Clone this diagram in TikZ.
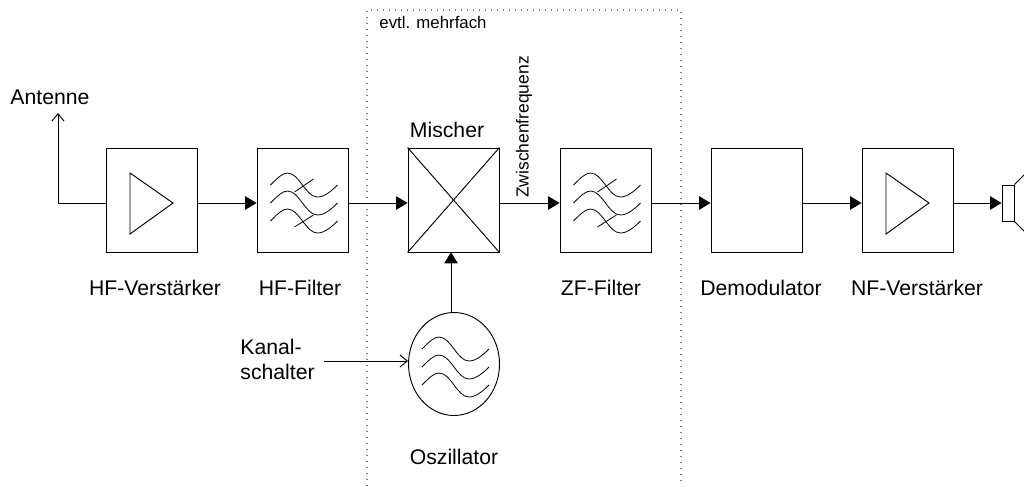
\documentclass[tikz,border=0pt]{standalone}
\usepackage{fontspec}
\setmainfont{Liberation Sans}
\usetikzlibrary{arrows.meta}
\usetikzlibrary{shapes.geometric}
\usetikzlibrary{calc}

\tikzset{
  blockbox/.style={draw=black, rectangle, minimum width=68.25pt, minimum height=78pt, inner sep=0pt},
  labeltext/.style={font=\fontsize{15.9}{18}\selectfont, inner sep=0pt, anchor=center},
  smalltext/.style={font=\fontsize{12.6}{15}\selectfont, inner sep=0pt},
  wire/.style={black, line width=0.7pt, -{Triangle[length=8.5pt,width=10pt]}},
  openwire/.style={black, line width=0.7pt, -{Straight Barb[length=5.5pt,width=9pt]}},
  wave/.pic={
    \draw [black, line width=0.6pt] (-32,-15) .. controls (-25,-22) and (-20,-27) .. (-15,-27)
      .. controls (-3,-27) and (3,-3) .. (15,-3) .. controls (22,-3) and (29,-9) .. (35,-15);
  },
  wavetrio/.pic={
    \pic at (0,0) {wave};
    \pic at (0,18) {wave};
    \pic at (0,36) {wave};
  },
  filtersign/.pic={
    \pic at (0,0) {wavetrio};
    \draw [black, line width=0.6pt] (-8,-8) to (11,-21);
    \draw [black, line width=0.6pt] (-8,27) to (11,15);
  }
}

\begin{document}
\begin{tikzpicture}[x=0.75pt, y=-0.75pt, line width=0.7pt]
  \useasboundingbox (0,0) rectangle (1024,486);
  \clip (0,0) rectangle (1024,486);

  % dotted frame, open at the bottom
  \draw [gray, line width=0.8pt, dash pattern=on 0.8pt off 3.7pt] (367,486) -- (367,10) -- (681,10) -- (681,486);
  \node [smalltext, anchor=west] (mehrfach) at (379,22) {evtl. mehrfach};

  \coordinate (bus) at (0,203);

  % blocks
  \node [blockbox] (hfamp) at (151.5,200) {};
  \node [blockbox] (hffilter) at (302.5,200) {};
  \node [blockbox] (mixer) at (453.5,200) {};
  \node [blockbox] (zffilter) at (605.5,200) {};
  \node [blockbox] (demod) at (756.5,200) {};
  \node [blockbox] (nfamp) at (907.5,200) {};
  \node [draw=black, rectangle, minimum width=9pt, minimum height=27pt, inner sep=0pt] (speaker) at (1008,203) {};
  \node [draw=black, ellipse, minimum width=68.25pt, minimum height=77.25pt, inner sep=0pt] (osc) at (454,364) {};

  % symbols in the blocks
  \draw [black] (130,173) -- (173,203) -- (130,234) -- cycle;
  \draw [black] (886,173) -- (929,203) -- (886,234) -- cycle;
  \pic at (hffilter.center) {filtersign};
  \pic at (zffilter.center) {filtersign};
  \pic at (osc.center) {wavetrio};
  \draw [black] (mixer.north west) -- (mixer.south east);
  \draw [black] (mixer.north east) -- (mixer.south west);
  \draw [black] (speaker.north east) -- ++(12,-12);
  \draw [black] (speaker.south east) -- ++(12,12);

  % labels
  \node [labeltext, anchor=west] (antenne) at (10,97) {Antenne};
  \node [labeltext] (hfamplabel) at (155,288) {HF-Verstärker};
  \node [labeltext] (hffilterlabel) at (300,288) {HF-Filter};
  \node [labeltext] (mixerlabel) at (447,130) {Mischer};
  \node [labeltext] (zffilterlabel) at (601,288) {ZF-Filter};
  \node [labeltext] (demodlabel) at (761,288) {Demodulator};
  \node [labeltext] (nfamplabel) at (917,288) {NF-Verstärker};
  \node [labeltext] (osclabel) at (454,457) {Oszillator};
  \node [labeltext, anchor=west] (kanal) at (240,347) {Kanal-};
  \node [labeltext, anchor=west] (schalter) at (240,372) {schalter};
  \node [smalltext, font=\fontsize{13.1}{15}\selectfont, rotate=90] (zwischen) at (524,127) {Zwischenfrequenz};

  % connections
  \coordinate (antennetip) at (58,113);
  \coordinate (kanalstart) at (324,361);
  \coordinate (mixerin) at (451,252);
  \draw [openwire] (hfamp.west |- bus) -| (antennetip);
  \draw [wire] (hfamp.east |- bus) to (hffilter.west |- bus);
  \draw [wire] (hffilter.east |- bus) to (mixer.west |- bus);
  \draw [wire] (mixer.east |- bus) to (zffilter.west |- bus);
  \draw [wire] (zffilter.east |- bus) to (demod.west |- bus);
  \draw [wire] (demod.east |- bus) to (nfamp.west |- bus);
  \draw [wire] (nfamp.east |- bus) to (speaker.west |- bus);
  \draw [wire] (mixerin |- osc.north) to (mixerin);
  \draw [openwire] (kanalstart) to (osc.west |- kanalstart);
\end{tikzpicture}
\end{document}
